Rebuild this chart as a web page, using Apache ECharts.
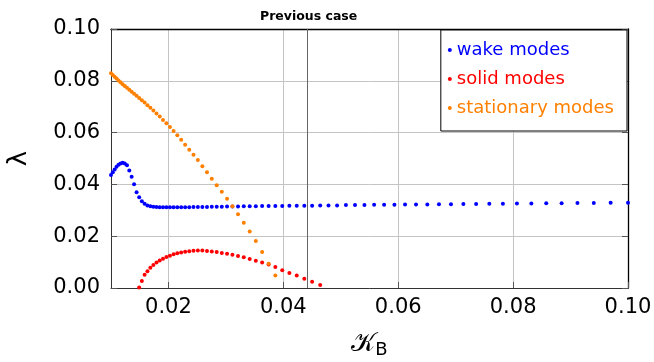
<!DOCTYPE html>
<html>
<head>
<meta charset="utf-8">
<script src="https://cdn.jsdelivr.net/npm/echarts@6/dist/echarts.min.js"></script>
<style>
  html, body { margin: 0; padding: 0; background: #fff; }
  #chart { width: 654px; height: 362px; }
</style>
</head>
<body>
<div id="chart"></div>
<script>
// sampled K_B values (shared by all three mode families)
var kB = [
  0.010000, 0.010312, 0.010634, 0.010965, 0.011307, 0.011659, 0.012023, 0.012397, 0.012784, 0.013183,
  0.013594, 0.014018, 0.014454, 0.014905, 0.015370, 0.015849, 0.016343, 0.016853, 0.017378, 0.017920,
  0.018478, 0.019055, 0.019649, 0.020261, 0.020893, 0.021544, 0.022216, 0.022909, 0.023623, 0.024360,
  0.025119, 0.025902, 0.026710, 0.027542, 0.028401, 0.029286, 0.030200, 0.031141, 0.032113, 0.033113,
  0.034145, 0.035209, 0.036308, 0.037440, 0.038606, 0.039811, 0.041052, 0.042332, 0.043652, 0.045013,
  0.046416, 0.047863, 0.049355, 0.050894, 0.052481, 0.054117, 0.055804, 0.057544, 0.059338, 0.061188,
  0.063096, 0.065063, 0.067092, 0.069183, 0.071340, 0.073564, 0.075858, 0.078223, 0.080662, 0.083176,
  0.085770, 0.088444, 0.091201, 0.094044, 0.096978, 0.100000
];

// wake modes: one value per kB sample
var wakeY = [
  0.0436, 0.0447, 0.0458, 0.0468, 0.0476, 0.0481, 0.0484, 0.0481, 0.0474, 0.0454,
  0.0430, 0.0401, 0.0370, 0.0350, 0.0335, 0.0325, 0.0319, 0.0316, 0.0314, 0.0313,
  0.0312, 0.0312, 0.0312, 0.0312, 0.0312, 0.0312, 0.0312, 0.0312, 0.0312, 0.0313,
  0.0313, 0.0313, 0.0313, 0.0314, 0.0314, 0.0314, 0.0315, 0.0315, 0.0315, 0.0316,
  0.0316, 0.0316, 0.0317, 0.0317, 0.0317, 0.0317, 0.0318, 0.0318, 0.0318, 0.0318,
  0.0319, 0.0319, 0.0319, 0.0320, 0.0320, 0.0320, 0.0321, 0.0321, 0.0321, 0.0322,
  0.0322, 0.0322, 0.0323, 0.0323, 0.0324, 0.0324, 0.0325, 0.0325, 0.0326, 0.0326,
  0.0327, 0.0327, 0.0328, 0.0328, 0.0329, 0.0329
];

// solid modes: start at kB[13]
var solidStart = 13;
var solidY = [
  0.0002, 0.0027, 0.0051, 0.0065, 0.0078, 0.0089, 0.0098, 0.0106, 0.0113, 0.0120,
  0.0125, 0.0130, 0.0134, 0.0137, 0.0140, 0.0142, 0.0144, 0.0145, 0.0145, 0.0143,
  0.0141, 0.0139, 0.0135, 0.0132, 0.0128, 0.0124, 0.0119, 0.0112, 0.0105,
  0.0098, 0.0091, 0.0081, 0.0069, 0.0058, 0.0048, 0.0036, 0.0024, 0.0012
];

// stationary modes: start at kB[0]
var stationaryY = [
  0.0829, 0.0822, 0.0816, 0.0809, 0.0801, 0.0794, 0.0787, 0.0780, 0.0773, 0.0765,
  0.0758, 0.0750, 0.0742, 0.0734, 0.0725, 0.0716, 0.0706, 0.0696, 0.0685, 0.0674,
  0.0662, 0.0649, 0.0636, 0.0622, 0.0606, 0.0590, 0.0572, 0.0553, 0.0534, 0.0514,
  0.0494, 0.0470, 0.0447, 0.0422, 0.0397, 0.0372, 0.0345, 0.0316, 0.0285, 0.0252,
  0.0218, 0.0181, 0.0139, 0.0094, 0.0048
];

var markerK = 0.0441;
var seriesNames = ['wake modes', 'solid modes', 'stationary modes'];
var seriesColors = ['#0000ff', '#ff0000', '#ff8000'];

function pairs(ys, start) {
  var out = [];
  for (var i = 0; i < ys.length; i++) out.push([kB[start + i], ys[i]]);
  return out;
}

var font = 'DejaVu Sans';
var myChart = echarts.init(document.getElementById('chart'));
var option = {
  animation: false,
  backgroundColor: '#fff',
  title: {
    text: 'Previous case',
    left: 255,
    top: 5,
    textStyle: { fontFamily: font, fontSize: 12.5, fontWeight: 'bold', color: '#000' }
  },
  legend: {
    orient: 'vertical',
    right: 27,
    top: 30,
    padding: [11, 13, 14, 7],
    itemGap: 11,
    itemWidth: 4,
    itemHeight: 4,
    icon: 'circle',
    backgroundColor: '#fff',
    borderColor: '#000',
    borderWidth: 1,
    borderRadius: 0,
    textStyle: { fontFamily: font, fontSize: 18 },
    data: seriesNames.map(function (n, i) {
      return { name: n, textStyle: { color: seriesColors[i] } };
    })
  },
  grid: { left: 111, right: 26, top: 29, bottom: 74, outerBoundsMode: 'none' },
  xAxis: [{
    type: 'value',
    min: 0.01,
    max: 0.1,
    name: '{k|𝒦}{s|B}',
    nameLocation: 'middle',
    nameGap: 41,
    nameTextStyle: {
      rich: {
        k: { fontFamily: 'DejaVu Sans', fontSize: 26, color: '#000' },
        s: { fontFamily: font, fontSize: 18, color: '#000', padding: [12, 0, 0, 0] }
      }
    },
    axisLine: { show: true, lineStyle: { color: '#333', width: 1 } },
    axisTick: { show: true, inside: true, length: 6, lineStyle: { color: '#555' } },
    axisLabel: {
      showMinLabel: false,
      fontFamily: font, fontSize: 21, color: '#000', margin: 9,
      formatter: function (v) { return v.toFixed(2); }
    },
    splitLine: { show: true, lineStyle: { color: '#c4c4c4', width: 1 } }
  }, {
    type: 'value',
    position: 'top',
    min: 0.01,
    max: 0.1,
    axisLine: { show: true, onZero: false, lineStyle: { color: '#000', width: 1.3 } },
    axisTick: { show: false },
    axisLabel: { show: false },
    splitLine: { show: false }
  }],
  yAxis: [{
    type: 'value',
    min: 0,
    max: 0.1,
    interval: 0.02,
    name: 'λ',
    nameLocation: 'middle',
    nameGap: 79,
    nameTextStyle: { fontFamily: font, fontSize: 26, color: '#000' },
    axisLine: { show: true, lineStyle: { color: '#333', width: 1 } },
    axisTick: { show: true, inside: true, length: 6, lineStyle: { color: '#555' } },
    axisLabel: {
      fontFamily: font, fontSize: 21, color: '#000', margin: 11,
      formatter: function (v) { return v.toFixed(2); }
    },
    splitLine: { show: true, lineStyle: { color: '#c4c4c4', width: 1 } }
  }, {
    type: 'value',
    position: 'right',
    min: 0,
    max: 0.1,
    interval: 0.02,
    axisLine: { show: true, onZero: false, lineStyle: { color: '#000', width: 1.3 } },
    axisTick: { show: true, inside: true, length: 6, lineStyle: { color: '#555' } },
    axisLabel: { show: false },
    splitLine: { show: false }
  }],
  series: [
    {
      name: seriesNames[0],
      type: 'scatter',
      symbol: 'circle',
      symbolSize: 4,
      itemStyle: { color: seriesColors[0], opacity: 1 },
      data: pairs(wakeY, 0),
      markLine: {
        silent: true,
        precision: 4,
        symbol: ['none', 'none'],
        label: { show: false },
        lineStyle: { color: '#666', type: 'solid', width: 1 },
        data: [{ xAxis: markerK }]
      }
    },
    {
      name: seriesNames[1],
      type: 'scatter',
      symbol: 'circle',
      symbolSize: 4,
      itemStyle: { color: seriesColors[1], opacity: 1 },
      data: pairs(solidY, solidStart)
    },
    {
      name: seriesNames[2],
      type: 'scatter',
      symbol: 'circle',
      symbolSize: 4,
      itemStyle: { color: seriesColors[2], opacity: 1 },
      data: pairs(stationaryY, 0)
    }
  ]
};
myChart.setOption(option);
</script>
</body>
</html>
